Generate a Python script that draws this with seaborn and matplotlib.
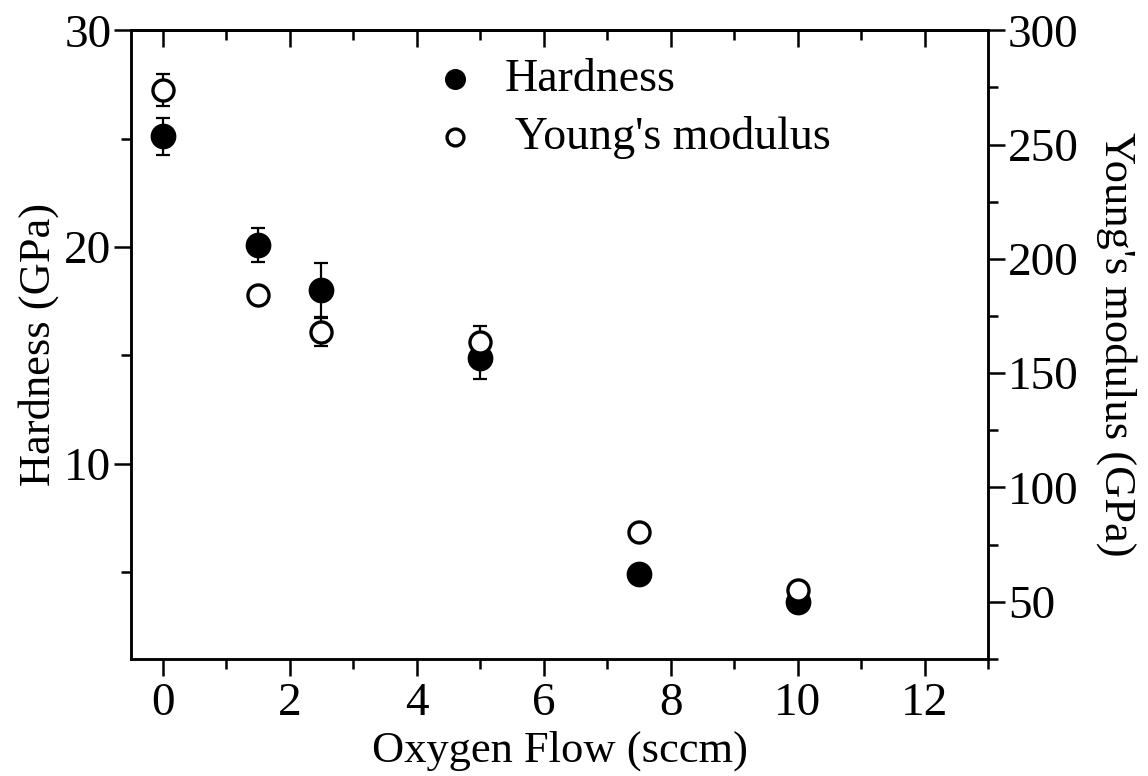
import matplotlib
matplotlib.use("Agg")
import matplotlib.pyplot as plt
import seaborn as sns
import pandas as pd
from matplotlib.ticker import FixedLocator

# ---- data ----
oxygen_flow = [0, 1.5, 2.5, 5, 7.5, 10]
hardness = [25.1, 20.1, 18.0, 14.9, 4.9, 3.6]
hardness_err = [0.87, 0.8, 1.25, 1.0, 0.2, 0.2]
youngs = [274, 184, 168, 163.7, 80.6, 55.1]
youngs_err = [7, 2, 6, 7, 1.7, 1.0]

x_ticks = [0, 2, 4, 6, 8, 10, 12]
left_ticks = [10, 20, 30]
right_ticks = [50, 100, 150, 200, 250, 300]

df = pd.DataFrame({"flow": oxygen_flow, "H": hardness, "Herr": hardness_err,
                   "E": youngs, "Eerr": youngs_err})

sns.set_style("ticks")
plt.rcParams["font.family"] = ["Liberation Serif", "DejaVu Serif"]
plt.rcParams["text.color"] = "black"
plt.rcParams["axes.labelcolor"] = "black"
plt.rcParams["xtick.color"] = "black"
plt.rcParams["ytick.color"] = "black"
plt.rcParams["axes.edgecolor"] = "black"

fig = plt.figure(figsize=(11.48, 7.76), dpi=100)
ax = fig.add_axes([0.114, 0.151, 0.747, 0.810])
ax2 = ax.twinx()

lw = 1.8
FS = 32
TFS = 34

# Hardness (left axis)
ax.errorbar(df["flow"], df["H"], yerr=df["Herr"], fmt="none", ecolor="black",
            elinewidth=1.6, capsize=5, capthick=1.6, zorder=2)
sns.scatterplot(data=df, x="flow", y="H", ax=ax, marker="o", s=290,
                color="black", edgecolor="black", linewidth=1.5,
                label="Hardness", legend=False, zorder=3)

# Young's modulus (right axis)
ax2.errorbar(df["flow"], df["E"], yerr=df["Eerr"], fmt="none", ecolor="black",
             elinewidth=1.6, capsize=5, capthick=1.6, zorder=2)
sns.scatterplot(data=df, x="flow", y="E", ax=ax2, marker="o", s=230,
                facecolor="white", edgecolor="black", linewidth=2.4,
                label=" Young's modulus", legend=False, zorder=3)

# limits
ax.set_xlim(-0.5, 13)
ax.set_ylim(1, 30)
ax2.set_ylim(25, 300)

# ticks
ax.xaxis.set_major_locator(FixedLocator(x_ticks))
ax.xaxis.set_minor_locator(FixedLocator([1, 3, 5, 7, 9, 11, 13]))
ax.yaxis.set_major_locator(FixedLocator(left_ticks))
ax.yaxis.set_minor_locator(FixedLocator([5, 15, 25]))
ax2.yaxis.set_major_locator(FixedLocator(right_ticks))
ax2.yaxis.set_minor_locator(FixedLocator([25, 75, 125, 175, 225, 275]))

for a in (ax, ax2):
    a.tick_params(which="major", length=12, width=lw, direction="out",
                  labelsize=TFS, colors="black")
    a.tick_params(which="minor", length=7, width=lw, direction="out")
    for sp in a.spines.values():
        sp.set_linewidth(lw)
        sp.set_visible(True)
        sp.set_color("black")

ax.tick_params(axis="x", which="major", pad=5)
ax.tick_params(axis="y", which="major", pad=2)
ax2.tick_params(axis="y", which="major", pad=2)
ax.tick_params(axis="y", which="both", right=False)
ax2.tick_params(axis="y", which="both", left=False, right=True)

# top ticks (inward)
top = ax.secondary_xaxis("top")
top.xaxis.set_major_locator(FixedLocator(x_ticks))
top.xaxis.set_minor_locator(FixedLocator([1, 3, 5, 7, 9, 11]))
top.tick_params(which="major", direction="in", length=12, width=lw, labeltop=False)
top.tick_params(which="minor", direction="in", length=7, width=lw)
top.spines["top"].set_linewidth(lw)

ax.set_xlabel("Oxygen Flow (sccm)", fontsize=FS, labelpad=4)
ax.set_ylabel("Hardness (GPa)", fontsize=FS, labelpad=4)
ax2.set_ylabel("Young's modulus (GPa)", fontsize=FS, rotation=270, labelpad=42)

# legend
h1, l1 = ax.get_legend_handles_labels()
h2, l2 = ax2.get_legend_handles_labels()
leg = ax2.legend(h1 + h2, l1 + l2, loc="upper left", bbox_to_anchor=(0.351, 0.955),
                 frameon=False, fontsize=33, handlelength=1.0, handletextpad=0.59,
                 borderpad=0, borderaxespad=0, labelspacing=0.32, markerscale=0.8)

fig.savefig("out.png", dpi=100)
